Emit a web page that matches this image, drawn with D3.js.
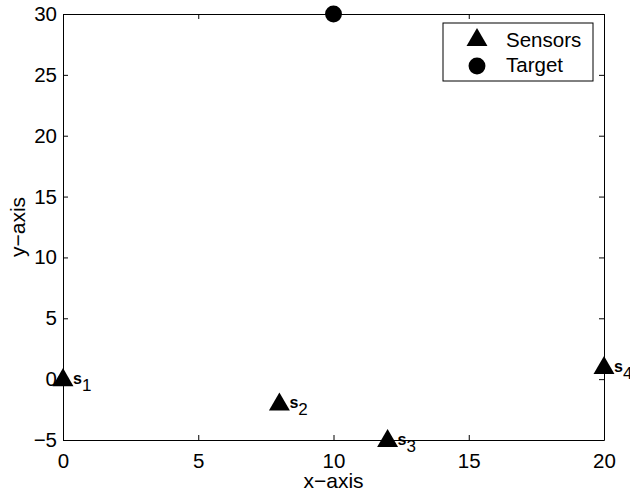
<!DOCTYPE html>
<html>
<head>
<meta charset="utf-8">
<script src="https://cdn.jsdelivr.net/npm/d3@7"></script>
<style>
  body { margin: 0; background: #fff; }
  text { font-family: "Liberation Sans", Arial, sans-serif; fill: #000; }
</style>
</head>
<body>
<div class="holder"></div>
<script>
const sensorX = [0, 8, 12, 20];
const sensorY = [0, -2, -5, 1];
const sensorNames = ['1', '2', '3', '4'];
const targetX = [10];
const targetY = [30];
const xTicks = [0, 5, 10, 15, 20];
const yTicks = [-5, 0, 5, 10, 15, 20, 25, 30];
const legendLabels = ['Sensors', 'Target'];

const width = 630;
const height = 495;
const margin = { left: 63, right: 26, top: 14, bottom: 55 };

const svg = d3
  .select('.holder')
  .append('svg')
  .attr('width', width)
  .attr('height', height);

const xScale = d3.scaleLinear().domain([0, 20]).range([margin.left, width - margin.right]);
const yScale = d3.scaleLinear().domain([-5, 30]).range([height - margin.bottom, margin.top]);

const tri = d3.symbol().type(d3.symbolTriangle).size(190);
const dot = d3.symbol().type(d3.symbolCircle).size(225);

// axes, ticks inward on all four sides
const axisStyle = g => {
  g.select('.domain').attr('stroke', '#000').attr('stroke-width', 1);
  g.selectAll('.tick line').attr('stroke', '#000');
  g.selectAll('.tick text')
    .style('font-family', '"Liberation Sans", Arial, sans-serif')
    .style('font-size', '20.5px')
    .attr('fill', '#000');
};

svg.append('g')
  .attr('transform', `translate(0, ${yScale(-5)})`)
  .call(d3.axisBottom(xScale).tickValues(xTicks).tickSize(-5).tickSizeOuter(0).tickPadding(13).tickFormat(d3.format('d')))
  .call(axisStyle);

svg.append('g')
  .attr('transform', `translate(0, ${yScale(30)})`)
  .call(d3.axisTop(xScale).tickValues(xTicks).tickSize(-5).tickSizeOuter(0).tickFormat(''))
  .call(axisStyle);

svg.append('g')
  .attr('transform', `translate(${xScale(0)}, 0)`)
  .call(d3.axisLeft(yScale).tickValues(yTicks).tickSize(-5).tickSizeOuter(0).tickPadding(6).tickFormat(d => d < 0 ? '\u2212' + Math.abs(d) : d))
  .call(axisStyle);

svg.append('g')
  .attr('transform', `translate(${xScale(20)}, 0)`)
  .call(d3.axisRight(yScale).tickValues(yTicks).tickSize(-5).tickSizeOuter(0).tickFormat(''))
  .call(axisStyle);

// axis titles
svg.append('text')
  .attr('x', xScale(10))
  .attr('y', 488)
  .attr('text-anchor', 'middle')
  .style('font-size', '21px')
  .text('x\u2212axis');

svg.append('text')
  .attr('transform', `translate(25, ${yScale(12.5)}) rotate(-90)`)
  .attr('text-anchor', 'middle')
  .style('font-size', '21px')
  .text('y\u2212axis');

// sensors
svg.selectAll('.sensor')
  .data(sensorX)
  .enter()
  .append('path')
  .attr('class', 'sensor')
  .attr('d', tri)
  .attr('transform', (d, i) => `translate(${xScale(d)}, ${yScale(sensorY[i]) + 1})`)
  .attr('fill', '#000');

const labels = svg.selectAll('.slabel')
  .data(sensorX)
  .enter()
  .append('text')
  .attr('class', 'slabel')
  .attr('x', (d) => xScale(d) + 10)
  .attr('y', (d, i) => yScale(sensorY[i]) + 5);

labels.append('tspan')
  .style('font-size', '16px')
  .style('font-weight', 'bold')
  .text('s');

labels.append('tspan')
  .attr('dy', 7)
  .style('font-size', '17px')
  .text((d, i) => sensorNames[i]);

// target
svg.selectAll('.target')
  .data(targetX)
  .enter()
  .append('path')
  .attr('class', 'target')
  .attr('d', dot)
  .attr('transform', (d, i) => `translate(${xScale(d)}, ${yScale(targetY[i])})`)
  .attr('fill', '#000');

// legend
const legend = svg.append('g').attr('transform', 'translate(443, 23)');
legend.append('rect')
  .attr('width', 150)
  .attr('height', 58)
  .attr('fill', '#fff')
  .attr('stroke', '#000')
  .attr('stroke-width', 1);

legend.append('path')
  .attr('d', tri)
  .attr('transform', 'translate(34, 17)')
  .attr('fill', '#000');

legend.append('path')
  .attr('d', dot)
  .attr('transform', 'translate(34, 43)')
  .attr('fill', '#000');

legend.selectAll('.ltext')
  .data(legendLabels)
  .enter()
  .append('text')
  .attr('class', 'ltext')
  .attr('x', 63)
  .attr('y', (d, i) => 24 + i * 25)
  .style('font-size', '20.5px')
  .text(d => d);
</script>
</body>
</html>
